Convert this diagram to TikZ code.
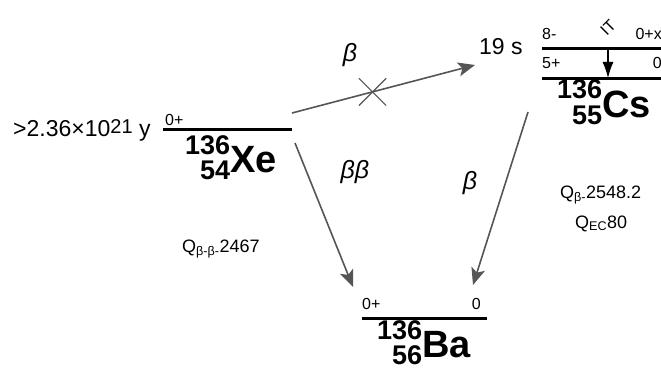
\documentclass[tikz,border=0pt]{standalone}
\usepackage{fontspec}
\setmainfont{Liberation Sans}
\usetikzlibrary{arrows.meta,shapes.misc}
\definecolor{arrgray}{RGB}{85,85,85}
% nuclide label: mass and atomic number stacked left of the symbol
\newcommand{\nucnum}{\fontsize{27}{27}\selectfont\bfseries}
\newcommand{\nucl}[3]{\makebox[0pt][r]{\raisebox{18pt}{\nucnum #1}}\makebox[0pt][r]{\raisebox{-7pt}{\nucnum #2}}{\fontsize{38}{38}\selectfont\bfseries #3}}

\begin{document}
\begin{tikzpicture}[
    x=1pt, y=-1pt,
    level/.style={draw, line width=3pt},
    decay/.style={draw=arrgray, line width=1.6pt, -{Stealth[length=17pt,width=14pt,inset=4pt]}},
    itarr/.style={draw, line width=1.2pt, -{Latex[length=16pt,width=11pt]}},
    spin/.style={font=\fontsize{16}{16}\selectfont, inner sep=0pt},
    life/.style={font=\fontsize{23}{23}\selectfont, inner sep=0pt, anchor=base west},
    nuc/.style={inner sep=0pt, anchor=base west},
    mode/.style={font=\fontsize{25}{25}\selectfont\itshape, inner sep=0pt},
    qval/.style={font=\fontsize{18}{18}\selectfont, inner sep=0pt, anchor=base west}
]
\useasboundingbox (0,0) rectangle (661,369);

% levels
\coordinate (xeL) at (163,129);
\coordinate (xeR) at (292,129);
\coordinate (csHiL) at (542,48.5);
\coordinate (csHiR) at (661,48.5);
\coordinate (csLoL) at (542,78.5);
\coordinate (csLoR) at (661,78.5);
\coordinate (baL) at (362,318.5);
\coordinate (baR) at (487,318.5);
\draw[level] (xeL) -- (xeR);
\draw[level] (csHiL) -- (csHiR);
\draw[level] (csLoL) -- (csLoR);
\draw[level] (baL) -- (baR);

% spins and half-lives
\node[spin, anchor=base west] (xeSpin) at (165,125) {0+};
\node[spin, anchor=base west] (csHiSpin) at (542,40) {8-};
\node[spin, anchor=base east] (csHiE) at (662,40) {0+x};
\node[spin, anchor=base west] (csLoSpin) at (542,69) {5+};
\node[spin, anchor=base east] (csLoE) at (662,69) {0};
\node[spin, anchor=base west] (baSpin) at (362,309) {0+};
\node[spin, anchor=base east] (baE) at (481,309) {0};
\node[life] (xeLife) at (13,136) {>2.36×10\raisebox{3pt}{\fontsize{20}{20}\selectfont 21} y};
\node[life] (csLife) at (479,55) {19 s};

% nuclides
\node[nuc] (xe) at (230,172) {\nucl{136}{54}{Xe}};
\node[nuc] (cs) at (602,117) {\nucl{136}{55}{Cs}};
\node[nuc] (ba) at (422,357) {\nucl{136}{56}{Ba}};

% decays
\coordinate (xeOut) at (292,113);
\coordinate (csIn) at (475,65);
\coordinate (xeDown) at (295,143);
\coordinate (baInL) at (353,287);
\coordinate (csDown) at (528,112);
\coordinate (baInR) at (473,285);
\coordinate (itTop) at (608,50);
\coordinate (itBot) at (608,78);
\draw[decay] (xeOut) -- (csIn)
    node[pos=0.44, cross out, draw=arrgray, line width=1.2pt, minimum size=26pt, inner sep=0pt] (veto) {};
\draw[decay] (xeDown) -- (baInL);
\draw[decay] (csDown) -- (baInR);
\draw[itarr] (itTop) -- (itBot);
\node[spin, rotate=45, font=\fontsize{16}{16}\selectfont] (it) at (608,28) {IT};

\node[mode] (bA) at (350,55) {β};
\node[mode] (bB) at (355,172) {ββ};
\node[mode] (bC) at (470,183) {β};

% Q values
\node[qval] (qXe) at (182,252) {Q\textsubscript{β-β-}2467};
\node[qval] (qCs) at (560,198) {Q\textsubscript{β-}2548.2};
\node[qval] (qEc) at (575,228) {Q\textsubscript{EC}80};
\end{tikzpicture}
\end{document}
